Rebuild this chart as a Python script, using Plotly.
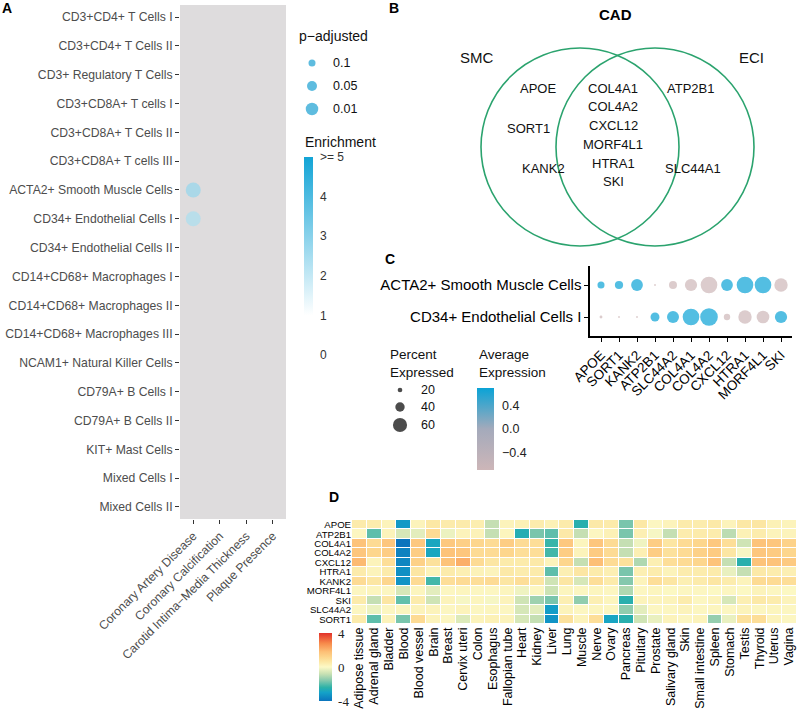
import numpy as np
import plotly.graph_objects as go

W, H = 798, 715
FONT = "Liberation Sans"


def fx(x):
    return x / W


def fy(y):
    return 1 - y / H


# ---------------- Panel A data ----------------
a_cell_types = [
    "CD3+CD4+ T Cells I", "CD3+CD4+ T Cells II", "CD3+ Regulatory T Cells",
    "CD3+CD8A+ T cells I", "CD3+CD8A+ T Cells II", "CD3+CD8A+ T cells III",
    "ACTA2+ Smooth Muscle Cells", "CD34+ Endothelial Cells I", "CD34+ Endothelial Cells II",
    "CD14+CD68+ Macrophages I", "CD14+CD68+ Macrophages II", "CD14+CD68+ Macrophages III",
    "NCAM1+ Natural Killer Cells", "CD79A+ B Cells I", "CD79A+ B Cells II",
    "KIT+ Mast Cells", "Mixed Cells I", "Mixed Cells II",
]
a_traits = ["Coronary Artery Disease", "Coronary Calcification",
            "Carotid Intima\u2212Media Thickness", "Plaque Presence"]
a_hit_traits = ["Coronary Artery Disease", "Coronary Artery Disease"]
a_hit_cells = ["ACTA2+ Smooth Muscle Cells", "CD34+ Endothelial Cells I"]
a_hit_enrichment = [2.8, 2.45]
a_hit_padj = [0.001, 0.0011]
a_padj_breaks = [0.1, 0.05, 0.01]
a_padj_labels = ["0.1", "0.05", "0.01"]
a_enrich_ticks = [0, 1, 2, 3, 4, 5]
a_enrich_labels = ["0", "1", "2", "3", "4", ">= 5"]

# ---------------- Panel B data ----------------
venn_title = "CAD"
venn_sets = ["SMC", "ECI"]
smc_only = ["APOE", "SORT1", "KANK2"]
shared = ["COL4A1", "COL4A2", "CXCL12", "MORF4L1", "HTRA1", "SKI"]
eci_only = ["ATP2B1", "SLC44A1"]

# ---------------- Panel C data ----------------
c_genes = ["APOE", "SORT1", "KANK2", "ATP2B1", "SLC44A2", "COL4A1",
           "COL4A2", "CXCL12", "HTRA1", "MORF4L1", "SKI"]
c_cells = ["ACTA2+ Smooth Muscle Cells", "CD34+ Endothelial Cells I"]
c_pct_smc = [30, 35, 50, 8, 34, 52, 71, 50, 71, 71, 57]
c_pct_ec = [12, 8, 8, 38, 51, 71, 75, 27, 57, 54, 52]
c_avg_smc = [0.707, 0.707, 0.707, -0.707, -0.707, -0.707, -0.707, 0.707, 0.707, 0.707, -0.707]
c_avg_ec = [-0.707, -0.707, -0.707, 0.707, 0.707, 0.707, 0.707, -0.707, -0.707, -0.707, 0.707]
c_pct_breaks = [20, 40, 60]
c_avg_ticks = [0.4, 0.0, -0.4]
c_avg_labels = ["0.4", "0.0", "\u22120.4"]

# ---------------- Panel D data ----------------
d_tissues = ["Adipose tissue", "Adrenal gland", "Bladder", "Blood", "Blood vessel", "Brain",
             "Breast", "Cervix uteri", "Colon", "Esophagus", "Fallopian tube", "Heart",
             "Kidney", "Liver", "Lung", "Muscle", "Nerve", "Ovary", "Pancreas", "Pituitary",
             "Prostate", "Salivary gland", "Skin", "Small intestine", "Spleen", "Stomach",
             "Testis", "Thyroid", "Uterus", "Vagina"]
d_genes = ["APOE", "ATP2B1", "COL4A1", "COL4A2", "CXCL12", "HTRA1",
           "KANK2", "MORF4L1", "SKI", "SLC44A2", "SORT1"]
d_APOE = [0.5, 0.45, 0.2, -3.2, 0.2, 0.6, 0.5, 0.5, 0.4, -0.85, 0.2, 0.3, 0.45, 0.3, 0.5,
          -2.5, 0.55, 0.5, -1.7, 0.6, 0.1, 0.2, 0.5, 0.45, 0.55, 0.2, 0.6, 0.65, 0.3, 0.2]
d_ATP2B1 = [0.1, -1.95, 0.2, -0.6, -0.4, 1.0, -0.25, 0.2, 0.25, -0.85, 0.15, -2.6, -1.7, -1.95, 0.55,
            -0.85, 0.1, 0.3, -1.7, 0.35, -0.1, -0.85, 0.45, 0.5, 0.45, -0.95, 0.3, 0.45, 0.2, 0.2]
d_COL4A1 = [1.7, 1.0, 1.6, -4.0, 1.55, -2.85, 1.55, 1.35, 1.15, 1.0, 1.4, 1.0, 0.9, -2.3, 1.55,
            0.15, 1.6, 1.0, -0.85, -0.2, 1.4, 0.65, 1.0, 1.15, 1.55, 0.9, -0.7, 1.7, 1.6, 1.25]
d_COL4A2 = [1.6, 1.15, 1.4, -3.7, 1.4, -2.85, 1.7, 1.6, 1.0, 1.0, 1.15, 0.9, 0.9, -2.2, 1.4,
            0.2, 1.45, 1.0, -0.85, 0.35, 1.4, 0.8, 1.0, 1.3, 1.45, 0.65, -0.1, 1.6, 1.45, 1.15]
d_CXCL12 = [1.9, 0.2, 0.9, -3.6, 1.3, 0.8, 1.7, 2.1, 1.0, 0.65, 0.5, 0.5, 0.55, 0.2, 1.15,
            -0.85, 1.8, 1.0, 0.8, -1.1, 0.35, 0.9, 1.0, 1.15, 1.7, -0.85, -2.5, 1.7, 1.7, 1.5]
d_HTRA1 = [0.5, 0.2, 0.5, -3.4, 0.65, 0.2, 0.5, 0.35, 0.25, 0.2, 0.55, 0.45, 0.5, -1.95, 0.35,
           0.65, 0.5, 0.35, -1.7, 0.35, 0.45, 0.2, 0.45, 0.45, 0.5, -0.3, -0.85, 0.55, 0.45, 0.35]
d_KANK2 = [1.0, 0.65, 1.15, -3.3, 1.0, -2.2, 0.9, 1.0, 0.9, 1.0, 0.65, 0.9, 0.65, -0.7, 0.65,
           -0.6, 0.9, 0.5, -1.6, 0.2, 0.9, 0.65, 0.35, 0.5, 0.65, 0.45, 0.2, 1.0, 1.0, 0.9]
d_MORF4L1 = [0.1, 0.15, 0.1, -0.6, 0.15, -0.4, 0.1, 0.15, 0.1, 0.1, 0.15, -0.2, 0.1, -0.75, 0.15,
             0.1, 0.15, 0.1, -1.1, 0.1, 0.15, 0.05, 0.1, 0.1, 0.05, 0.1, 0.05, 0.2, 0.1, 0.05]
d_SKI = [0.5, -0.85, 0.65, -1.9, 0.45, -0.7, 0.2, -0.1, 0.15, -0.1, 0.2, -0.7, -1.3, -1.7, 0.35,
         -1.45, 0.35, 0.15, -2.5, 0.2, 0.2, 0.2, 0.45, 0.1, 0.2, -0.6, 0.35, 0.55, 0.45, 0.2]
d_SLC44A2 = [0.1, -0.25, 0.1, 0.15, 0.2, 0.2, 0.1, 0.2, 0.1, 0.15, 0.1, -0.6, -0.4, -3.1, 0.2,
             0.1, 0.15, 0.1, -1.45, -0.4, 0.1, 0.1, 0.2, 0.1, 0.15, 0.1, 0.2, 0.1, 0.15, 0.1]
d_SORT1 = [0.5, -1.95, 0.2, -1.7, 1.0, 0.2, 0.1, -0.5, 0.2, 0.3, 0.2, -0.6, -0.85, -3.3, 0.8,
           0.2, 0.9, -2.9, -2.5, -0.7, -0.3, 0.2, 0.1, 0.2, -1.4, -0.3, 0.8, 0.9, 0.2, 0.1]
d_z = [d_APOE, d_ATP2B1, d_COL4A1, d_COL4A2, d_CXCL12, d_HTRA1,
       d_KANK2, d_MORF4L1, d_SKI, d_SLC44A2, d_SORT1]
d_ticks = [-4, 0, 4]

# ---------------- scales ----------------
enrich_scale = [[0, "#FFFFFF"], [0.2, "#FFFFFF"], [1, "#12A4D6"]]
avg_scale = [[0, "#CDB6B8"], [0.5, "#A4AABB"], [1, "#0AA3D6"]]
d_scale = [[0.0, "#0B74BD"], [0.125, "#14A2C8"], [0.2, "#2DB2A8"], [0.3, "#84C8AD"],
           [0.4, "#C9E1B3"], [0.5, "#FCF9C6"], [0.575, "#FCE8A5"], [0.65, "#FDD48B"],
           [0.725, "#FDBF76"], [0.85, "#F7894A"], [1.0, "#E2312A"]]


def padj_size(p):
    return np.interp(-np.log10(np.asarray(p, dtype=float)), [1, 1.301, 2, 3], [7, 10, 12.5, 15])


def pct_size(p):
    return np.asarray(p, dtype=float) * 0.235


fig = go.Figure()

# Panel A dots
fig.add_trace(go.Scatter(
    x=a_hit_traits, y=a_hit_cells, mode="markers", xaxis="x", yaxis="y",
    marker=dict(size=padj_size(a_hit_padj), color=a_hit_enrichment, colorscale=enrich_scale,
                cmin=0, cmax=5, line=dict(width=0), showscale=True,
                colorbar=dict(x=fx(304), xanchor="left", xpad=0, y=fy(157), yanchor="top", ypad=0,
                              len=198, lenmode="pixels", thickness=9, thicknessmode="pixels",
                              outlinewidth=0, tickvals=a_enrich_ticks, ticktext=a_enrich_labels,
                              ticks="outside", ticklen=5, tickcolor="rgba(0,0,0,0)",
                              tickfont=dict(family=FONT, size=12, color="#333333"))),
    showlegend=False, hoverinfo="skip"))

# Panel C dots
c_x = c_genes + c_genes
c_y = [c_cells[0]] * len(c_genes) + [c_cells[1]] * len(c_genes)
fig.add_trace(go.Scatter(
    x=c_x, y=c_y, mode="markers", xaxis="x3", yaxis="y3",
    marker=dict(size=pct_size(c_pct_smc + c_pct_ec), color=c_avg_smc + c_avg_ec,
                colorscale=avg_scale, cmin=-0.707, cmax=0.707, line=dict(width=0), showscale=True,
                colorbar=dict(x=fx(477), xanchor="left", xpad=0, y=fy(388), yanchor="top", ypad=0,
                              len=82, lenmode="pixels", thickness=17, thicknessmode="pixels",
                              outlinewidth=0, tickvals=c_avg_ticks, ticktext=c_avg_labels,
                              ticks="outside", ticklen=6, tickcolor="rgba(0,0,0,0)",
                              tickfont=dict(family=FONT, size=12.5, color="#222222"))),
    showlegend=False, hoverinfo="skip"))

# Panel D heatmap
fig.add_trace(go.Heatmap(
    z=d_z, x=d_tissues, y=d_genes, xaxis="x4", yaxis="y4",
    colorscale=d_scale, zmin=-4, zmax=4, xgap=1, ygap=1,
    colorbar=dict(x=fx(319), xanchor="left", xpad=0, y=fy(633), yanchor="top", ypad=0,
                  len=68, lenmode="pixels", thickness=13, thicknessmode="pixels",
                  outlinewidth=0, tickvals=d_ticks, ticktext=[str(t) for t in d_ticks],
                  ticks="outside", ticklen=4, tickcolor="rgba(0,0,0,0)",
                  tickfont=dict(family="Liberation Serif", size=13, color="#222222")),
    hoverinfo="skip"))

# Legend keys (overlay pixel axis, drawn last)
fig.add_trace(go.Scatter(
    x=[312] * 3, y=[63, 86, 109], mode="markers", xaxis="x5", yaxis="y5",
    marker=dict(size=padj_size(a_padj_breaks), color="#1AA0D2", line=dict(width=0)),
    showlegend=False, hoverinfo="skip"))
fig.add_trace(go.Scatter(
    x=[400] * 3, y=[390, 407, 425], mode="markers", xaxis="x5", yaxis="y5",
    marker=dict(size=pct_size(c_pct_breaks), color="black", line=dict(width=0)),
    showlegend=False, hoverinfo="skip"))

annotations = []


def text(x, y, s, size=13, color="#111111", xanchor="center", bold=False, family=FONT):
    if bold:
        s = "<b>" + s + "</b>"
    annotations.append(dict(x=fx(x), y=fy(y), xref="paper", yref="paper", text=s, showarrow=False,
                            xanchor=xanchor, yanchor="middle",
                            font=dict(family=family, size=size, color=color)))


# Panel letters
text(0, 8, "A", 14, "black", "left", True)
text(387, 8, "B", 14, "black", "left", True)
text(383, 259, "C", 14, "black", "left", True)
text(327, 497, "D", 14, "black", "left", True)

# Panel A legends
text(297, 36, "p\u2212adjusted", 14, "#111111", "left")
for yy, lab in zip([63, 86, 109], a_padj_labels):
    text(331, yy, lab, 12.5, "#111111", "left")
text(303, 142, "Enrichment", 14, "#111111", "left")

# Panel B Venn
text(615, 15, venn_title, 15, "black", "center", True)
text(477, 57, venn_sets[0], 15, "#111111")
text(751, 57, venn_sets[1], 15, "#111111")
for (xx, yy), g in zip([(538, 88), (528, 128), (543, 168)], smc_only):
    text(xx, yy, g, 13)
for i, g in enumerate(shared):
    text(613, 88 + i * 18.8, g, 13)
for (xx, yy), g in zip([(690, 88), (693, 168)], eci_only):
    text(xx, yy, g, 13)

# Panel C legends
text(388, 354, "Percent", 13.5, "#111111", "left")
text(388, 372, "Expressed", 13.5, "#111111", "left")
for yy, v in zip([390, 407, 425], c_pct_breaks):
    text(419, yy, str(v), 12.5, "#111111", "left")
text(477, 354, "Average", 13.5, "#111111", "left")
text(477, 372, "Expression", 13.5, "#111111", "left")

shapes = [
    dict(type="rect", xref="x domain", yref="y domain", x0=0, x1=1, y0=0, y1=1,
         fillcolor="#DEDCDD", line=dict(width=0), layer="below"),
]
for cx in (580, 655):
    r, cy = 99, 147
    shapes.append(dict(type="circle", xref="paper", yref="paper",
                       x0=fx(cx - r), x1=fx(cx + r), y0=fy(cy + r), y1=fy(cy - r),
                       line=dict(color="#2BA36E", width=1.6), fillcolor="rgba(0,0,0,0)"))

axis_common = dict(showgrid=False, zeroline=False, automargin=False, fixedrange=True)

fig.update_layout(
    width=W, height=H, margin=dict(l=0, r=0, t=0, b=0),
    paper_bgcolor="white", plot_bgcolor="rgba(0,0,0,0)", showlegend=False,
    font=dict(family=FONT),
    xaxis=dict(domain=[fx(180), fx(286)], anchor="y", type="category", categoryorder="array",
               categoryarray=a_traits, range=[-0.5, 3.5], tickangle=-45, ticks="outside",
               tickmode="linear", dtick=1, tick0=0,
               ticklen=4, tickwidth=1, tickcolor="#333333", showline=False,
               tickfont=dict(family=FONT, size=12.2, color="#4D4D4D"), **axis_common),
    yaxis=dict(domain=[fy(519), fy(5)], anchor="x", type="category", categoryorder="array",
               categoryarray=a_cell_types, range=[17.42, -0.42], ticks="outside",
               tickmode="linear", dtick=1, tick0=0,
               ticklen=4, tickwidth=1, tickcolor="#333333", showline=False,
               tickfont=dict(family=FONT, size=12.2, color="#4D4D4D"), **axis_common),
    xaxis3=dict(domain=[fx(590.2), fx(791.8)], anchor="y3", type="category", categoryorder="array",
                categoryarray=c_genes, range=[-0.6, 10.6], tickangle=-45, ticks="outside",
                tickmode="linear", dtick=1, tick0=0,
                ticklen=4, tickwidth=1.2, tickcolor="black", showline=True, linecolor="black",
                linewidth=1.6, tickfont=dict(family=FONT, size=13.5, color="black"), **axis_common),
    yaxis3=dict(domain=[fy(336.2), fy(265.8)], anchor="x3", type="category", categoryorder="array",
                categoryarray=c_cells, range=[1.6, -0.6], ticks="outside",
                tickmode="linear", dtick=1, tick0=0,
                ticklen=4, tickwidth=1.2, tickcolor="black", showline=True, linecolor="black",
                linewidth=1.6, tickfont=dict(family=FONT, size=15, color="black"), **axis_common),
    xaxis4=dict(domain=[fx(352), fx(796.5)], anchor="y4", type="category", categoryorder="array",
                categoryarray=d_tissues, tickangle=-90, ticks="", showline=False,
                tickmode="linear", dtick=1, tick0=0,
                tickfont=dict(family=FONT, size=12.5, color="black"), **axis_common),
    yaxis4=dict(domain=[fy(624), fy(520)], anchor="x4", type="category", categoryorder="array",
                categoryarray=d_genes, autorange="reversed", ticks="", showline=False,
                tickmode="linear", dtick=1, tick0=0,
                tickfont=dict(family=FONT, size=9.6, color="black"), **axis_common),
    xaxis5=dict(domain=[0, 1], anchor="y5", range=[0, W], visible=False, **axis_common),
    yaxis5=dict(domain=[0, 1], anchor="x5", range=[H, 0], visible=False, **axis_common),
    annotations=annotations, shapes=shapes,
)

fig.write_html("out.html", config={"displayModeBar": False},
               post_script="document.body.style.margin='0';document.body.style.padding='0';")
